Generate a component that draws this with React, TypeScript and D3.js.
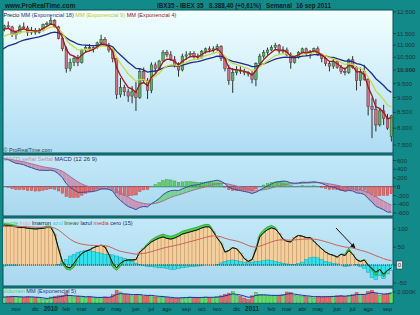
import React from 'react';
import * as d3 from 'd3';

// ---- Weekly data (IBEX 35, weekly bars dated by Monday) ----
const weekStarts: Date[] = d3.timeMonday.range(new Date(2009, 9, 5), new Date(2011, 8, 13));

const opens = [11600,11750,11850,11800,11450,11550,11800,11750,11550,11650,11550,11650,11900,11950,12100,11800,11300,10850,10050,10300,10450,10300,10800,10900,10850,10900,11100,11250,11000,10800,10450,9100,9350,9200,9050,9200,9000,9950,9600,9250,10200,10050,10350,10700,10600,10400,10200,10000,10550,10600,10650,10550,10500,10750,10850,10800,10850,10950,10450,10050,9600,9900,10000,9950,9900,9850,9650,10250,10550,10700,10800,10900,11000,10750,10800,10600,10300,10500,10700,10850,10650,10750,10850,10600,10450,10250,10150,10350,10100,9950,9900,10400,10100,9600,9950,9650,8700,8600,8100,8550,8300,7750];
const highs = [11800,11900,12050,11850,11600,11900,12000,11850,11800,11750,11750,11950,12050,12250,12150,11850,11350,10950,10450,10550,10600,10850,11000,11050,10950,11150,11450,11350,11100,10850,10500,9700,9450,9300,9400,9550,10050,10100,9700,10300,10300,10400,10800,10800,10750,10550,10300,10650,10750,10750,10750,10650,10800,10900,10950,10950,11050,11000,10500,10200,10080,10150,10150,10050,9950,10000,10300,10650,10800,10900,11000,11100,11050,10950,10900,10700,10550,10750,10900,10900,10800,10900,10950,10650,10550,10350,10500,10400,10200,10100,10450,10550,10150,10100,10200,9700,9000,8950,8650,8750,8450,8420];
const lows = [11500,11600,11750,11350,11250,11500,11700,11400,11450,11450,11500,11600,11850,11900,11750,11250,10750,9900,9950,10150,10150,10250,10700,10750,10700,10850,11050,10950,10700,10300,8950,9000,9050,8850,8800,8550,8950,9500,8950,9150,9900,10000,10350,10500,10350,10100,9750,9950,10400,10500,10450,10400,10450,10650,10700,10700,10750,10350,9950,9450,9160,9800,9850,9800,9750,9500,9400,10200,10450,10600,10750,10800,10650,10650,10550,10050,10250,10450,10650,10550,10450,10700,10550,10300,10150,9950,10050,10050,9850,9800,9850,10050,9250,9400,9600,8400,7700,7900,8050,8100,7950,7600];
const closes = [11750,11850,11800,11450,11550,11800,11750,11550,11650,11550,11650,11900,11950,12100,11800,11300,10850,10050,10300,10450,10300,10800,10900,10850,10900,11100,11250,11000,10800,10450,9100,9350,9200,9050,9200,9000,9950,9600,9250,10200,10050,10350,10700,10600,10400,10200,10000,10550,10600,10650,10550,10500,10750,10850,10800,10850,10950,10450,10050,9600,9900,10000,9950,9900,9850,9650,10250,10550,10700,10800,10900,11000,10750,10800,10600,10300,10500,10700,10850,10650,10750,10850,10600,10450,10250,10150,10350,10100,9950,9900,10400,10100,9600,9950,9650,8700,8600,8100,8550,8300,8000,8388.4];
const volumes = [1100,1050,1150,1250,1200,1050,1000,1150,1100,1000,950,700,650,1100,1200,1300,1400,1700,1400,1100,1200,1100,1000,1150,950,900,1000,1100,1000,1500,2300,2000,1600,1500,1300,1600,1500,1200,1300,1400,1100,1050,1100,950,900,800,850,1000,1050,1100,1000,950,1050,1100,1000,1050,1150,1300,1600,1800,2050,1400,1200,900,600,1300,1900,1600,1500,1400,1300,1350,1400,1500,2000,1900,1400,1300,1200,1150,1100,900,1200,1100,1150,1200,1250,1300,1350,1200,1400,1500,1900,1600,1500,2100,2300,1700,1400,1500,1700,1900];

// custom oscillator (panel 3)
const oscMarron = [112,111,110,108,106,104,104,102,101,100,101,102,104,104,85,45,10,-5,-8,5,20,32,38,42,48,52,55,50,30,5,-8,5,12,14,14,15,36,45,55,64,70,75,78,74,72,75,80,86,89,92,95,98,103,106,106,92,75,61,36,40,48,45,33,18,10,15,42,78,90,98,103,100,88,72,66,64,76,82,80,76,76,66,55,45,36,30,27,22,30,26,40,30,15,10,14,0,-10,-20,-12,-25,-15,-8];
const oscLineav = [116,115,114,112,109,107,106,104,103,102,103,105,108,108,88,45,3,-12,-14,-6,20,32,38,42,48,52,55,50,28,-6,-15,-3,12,14,14,15,36,47,60,70,77,82,86,82,80,83,88,94,97,100,103,106,110,113,112,96,75,61,36,40,48,45,33,18,10,15,48,86,98,106,110,105,88,72,66,64,76,82,80,76,76,66,55,45,36,30,27,22,30,30,47,30,15,10,14,0,-14,-30,-12,-33,-15,-8];
const oscAzul = [-3,-3,-2,-2,-2,0,0,0,0,0,0,0,0,0,0,2,5,15,25,30,35,38,40,40,38,35,33,30,30,28,25,22,18,15,10,5,2,-2,-4,-5,-6,-8,-8,-10,-12,-12,-10,-8,-6,-5,-4,-3,-2,0,0,0,2,6,10,12,14,12,10,8,6,8,10,10,12,14,12,10,8,5,3,2,2,4,8,15,20,22,20,15,10,8,5,3,0,-5,-3,0,2,-5,-10,-20,-35,-40,-30,-38,-25,-15];

// indicator seeds (value before the first bar)
const emaSeeds = { e18: 10650, e9: 11150, e4: 11500, m12: 11250, m26: 10600, sig: 630, media: 106, vol5: 1100 };

const priceTicks = [12500, 11500, 11000, 10500, 10000, 9500, 9000, 8500, 8000, 7500];
const macdTicks = [600, 400, 200, 0, -200, -400, -600];
const oscTicks = [100, 50, 0, -50];
const monthNames = ['ene', 'feb', 'mar', 'abr', 'may', 'jun', 'jul', 'ago', 'sep', 'oct', 'nov', 'dic'];

function ema(values: number[], period: number, seed: number) {
  const a = 2 / (period + 1);
  let prev = seed;
  return values.map(v => (prev = prev + a * (v - prev)));
}

const FONT = 'Liberation Sans, Arial, sans-serif';
const X0 = 3, X1 = 393;
const P1 = { top: 10, bottom: 153 };
const P2 = { top: 155, bottom: 216 };
const P3 = { top: 218, bottom: 286 };
const P4 = { top: 288, bottom: 303 };

const fmtThousands = (v: number) => d3.format(',')(v).replace(/,/g, '.');

export default function App() {
  const n = closes.length;
  const xb = d3.scaleBand<number>().domain(d3.range(n)).range([-1.435, 393.3]);
  const step = xb.step();
  const cx = (i: number) => (xb(i) as number) + step / 2;

  const yP = d3.scaleLog().domain([7500, 12500]).range([145.0, 11.9]);
  const yM = d3.scaleLinear().domain([-600, 600]).range([213, 160.5]);
  const yO = d3.scaleLinear().domain([-50, 100]).range([283, 229]);
  const yV = d3.scaleLinear().domain([0, 2000]).range([303, 292]);

  const e18 = ema(closes, 18, emaSeeds.e18);
  const e9 = ema(closes, 9, emaSeeds.e9);
  const e4 = ema(closes, 4, emaSeeds.e4);
  const m12 = ema(closes, 12, emaSeeds.m12);
  const m26 = ema(closes, 26, emaSeeds.m26);
  const macd = m12.map((v, i) => v - m26[i]);
  const signal = ema(macd, 9, emaSeeds.sig);
  const hist = macd.map((v, i) => v - signal[i]);
  const media = ema(oscMarron, 20, emaSeeds.media);
  const vol5 = ema(volumes, 5, emaSeeds.vol5);

  const idx = d3.range(n);
  const lineOf = (arr: number[], y: (v: number) => number) =>
    d3.line<number>().x(i => cx(i)).y(i => y(arr[i]))(idx) as string;

  // MACD fill segments
  const segs: { pts: [number, number][]; up: boolean }[] = [];
  for (let i = 0; i < n - 1; i++) {
    const x0 = cx(i), x1 = cx(i + 1);
    const d0 = macd[i] - signal[i], d1 = macd[i + 1] - signal[i + 1];
    if (d0 * d1 >= 0) {
      segs.push({ pts: [[x0, yM(macd[i])], [x1, yM(macd[i + 1])], [x1, yM(signal[i + 1])], [x0, yM(signal[i])]], up: d0 + d1 >= 0 });
    } else {
      const t = d0 / (d0 - d1);
      const xc = x0 + t * (x1 - x0);
      const vc = macd[i] + t * (macd[i + 1] - macd[i]);
      segs.push({ pts: [[x0, yM(macd[i])], [xc, yM(vc)], [x0, yM(signal[i])]], up: d0 > 0 });
      segs.push({ pts: [[xc, yM(vc)], [x1, yM(macd[i + 1])], [x1, yM(signal[i + 1])]], up: d1 > 0 });
    }
  }

  const greenArea = d3.area<number>().x(i => cx(i)).y0(i => yO(oscMarron[i])).y1(i => yO(oscLineav[i]))(idx) as string;

  // month labels at first bar of each month
  const monthLabels: { i: number; text: string; bold: boolean }[] = [];
  idx.forEach(i => {
    if (i === 0) return;
    const m = weekStarts[i].getMonth();
    if (m !== weekStarts[i - 1].getMonth()) {
      monthLabels.push(m === 0
        ? { i, text: String(weekStarts[i].getFullYear()), bold: true }
        : { i, text: monthNames[m], bold: false });
    }
  });

  const bw = 2.5;
  const panelRect = (p: { top: number; bottom: number }, fill: string) => (
    <rect x={X0} y={p.top} width={X1 - X0} height={p.bottom - p.top} fill={fill} stroke="#0b4f4f" strokeWidth={1} />
  );

  const dark = '#062222';
  const axisFill = '#1b3333';

  return (
    <svg width={420} height={315} style={{ position: 'absolute', left: 0, top: 0, display: 'block' }} fontFamily={FONT}>
      <defs>
        <linearGradient id="g1" x1="0" y1="0" x2="0" y2="1">
          <stop offset="0" stopColor="#f2ffff" />
          <stop offset="1" stopColor="#aedcf3" />
        </linearGradient>
        <linearGradient id="g2" x1="0" y1="0" x2="0" y2="1">
          <stop offset="0" stopColor="#c3e9f8" />
          <stop offset="1" stopColor="#a9d7ef" />
        </linearGradient>
        <clipPath id="c1"><rect x={X0} y={P1.top} width={X1 - X0} height={P1.bottom - P1.top} /></clipPath>
        <clipPath id="c2"><rect x={X0} y={P2.top} width={X1 - X0} height={P2.bottom - P2.top} /></clipPath>
        <clipPath id="c3"><rect x={X0} y={P3.top} width={X1 - X0} height={P3.bottom - P3.top} /></clipPath>
        <clipPath id="c4"><rect x={X0} y={P4.top} width={X1 - X0} height={P4.bottom - P4.top} /></clipPath>
        <marker id="arr" viewBox="0 0 10 10" refX="9" refY="5" markerWidth="5" markerHeight="5" orient="auto">
          <path d="M0,0 L10,5 L0,10 z" fill="#111" />
        </marker>
      </defs>
      <rect x={0} y={0} width={420} height={315} fill="#138a8a" />

      {/* header */}
      <g fontWeight="bold" fill={dark}>
        <text x={5} y={8} fontSize={6.4}>www.ProRealTime.com</text>
        <text x={157} y={8} fontSize={6.3}>IBX35 - IBEX 35</text>
        <text x={209} y={8} fontSize={6.3}>8.388,40 (+0,61%)</text>
        <text x={266} y={8} fontSize={6.3}>Semanal</text>
        <text x={296} y={8} fontSize={6.3}>16 sep 2011</text>
      </g>

      {/* panel 1: price */}
      {panelRect(P1, 'url(#g1)')}
      <g clipPath="url(#c1)">
        {idx.map(i => {
          const up = closes[i] >= opens[i];
          const yt = yP(Math.max(opens[i], closes[i]));
          const yb = yP(Math.min(opens[i], closes[i]));
          return (
            <g key={i}>
              <line x1={cx(i)} x2={cx(i)} y1={yP(highs[i])} y2={yP(lows[i])} stroke="#1a1a1a" strokeWidth={0.9} />
              <rect x={cx(i) - bw / 2} y={yt} width={bw} height={Math.max(0.8, yb - yt)}
                fill={up ? '#62ac6c' : '#cc7280'} stroke={up ? '#1f4a25' : '#5a2630'} strokeWidth={0.5} />
            </g>
          );
        })}
        <path d={lineOf(e18, yP)} fill="none" stroke="#1d2a8f" strokeWidth={1.3} />
        <path d={lineOf(e9, yP)} fill="none" stroke="#c9d944" strokeWidth={1.3} />
        <path d={lineOf(e4, yP)} fill="none" stroke="#a3161a" strokeWidth={1.3} />
      </g>
      <text x={3.5} y={16.5} fontSize={5.6}>
        <tspan fill="#111">Precio </tspan>
        <tspan fill="#2a2f88">MM (Exponencial 18) </tspan>
        <tspan fill="#c2c23a">MM (Exponencial 9) </tspan>
        <tspan fill="#8a2020">MM (Exponencial 4)</tspan>
      </text>
      <text x={3.5} y={152} fontSize={5.4} fill="#2d4545">© ProRealTime.com</text>

      {/* panel 2: MACD */}
      {panelRect(P2, 'url(#g2)')}
      <g clipPath="url(#c2)">
        {segs.map((s, k) => (
          <polygon key={k} points={s.pts.map(p => p.join(',')).join(' ')} fill={s.up ? '#72d68e' : '#c797b8'} stroke="none" />
        ))}
        <line x1={X0} x2={X1} y1={yM(0)} y2={yM(0)} stroke="#2f4a8a" strokeWidth={0.8} />
        {idx.map(i => {
          const v = hist[i];
          const y0 = yM(0), y1 = yM(v);
          return <rect key={i} x={cx(i) - 1.3} y={Math.min(y0, y1)} width={2.6} height={Math.abs(y1 - y0)}
            fill={v >= 0 ? '#5fd35f' : '#ea6a6a'} stroke={v >= 0 ? '#2f8f3f' : '#b03a3a'} strokeWidth={0.4} />;
        })}
        <path d={lineOf(signal, yM)} fill="none" stroke="#a86f95" strokeWidth={1} />
        <path d={lineOf(macd, yM)} fill="none" stroke="#3a4aa0" strokeWidth={1} />
      </g>
      <text x={3} y={161} fontSize={5.9}>
        <tspan fill="#a495a8">MACD </tspan>
        <tspan fill="#cc88a6">señal Señal </tspan>
        <tspan fill="#24306e">MACD (12 26 9)</tspan>
      </text>

      {/* panel 3: oscillator */}
      {panelRect(P3, 'url(#g2)')}
      <g clipPath="url(#c3)">
        {idx.map(i => {
          const v = oscMarron[i];
          if (v <= 0) return null;
          return <rect key={i} x={cx(i) - step / 2} y={yO(v)} width={step} height={yO(0) - yO(v)}
            fill="#f4cf9e" stroke="#c08b55" strokeWidth={0.45} />;
        })}
        {idx.map(i => {
          const v = oscAzul[i];
          const y0 = yO(0), y1 = yO(v);
          return <rect key={'a' + i} x={cx(i) - step / 2} y={Math.min(y0, y1)} width={step} height={Math.abs(y1 - y0)}
            fill="#34e2ee" stroke="#1a9aa8" strokeWidth={0.45} />;
        })}
        <path d={greenArea} fill="#49d548" stroke="#1d7a24" strokeWidth={0.6} />
        <path d={lineOf(oscMarron, yO)} fill="none" stroke="#111" strokeWidth={1} />
        <path d={lineOf(media, yO)} fill="none" stroke="#c8625e" strokeWidth={1} />
        <line x1={X0} x2={X1} y1={yO(0)} y2={yO(0)} stroke="#1c2f6a" strokeWidth={0.9} strokeDasharray="1,1" />
        <line x1={336} y1={228} x2={355} y2={248} stroke="#111" strokeWidth={1} markerEnd="url(#arr)" />
      </g>
      <text x={3} y={224.5} fontSize={5.6}>
        <tspan fill="#3fcf5a">lverde </tspan>
        <tspan fill="#e4a49a">lrojo </tspan>
        <tspan fill="#151515">lmarron </tspan>
        <tspan fill="#22d4e6">azul </tspan>
        <tspan fill="#2a6a2a">lineav </tspan>
        <tspan fill="#1a2a6a">lazul </tspan>
        <tspan fill="#d03040">media </tspan>
        <tspan fill="#1a2a6a">cero (15)</tspan>
      </text>

      {/* panel 4: volume */}
      {panelRect(P4, 'url(#g2)')}
      <g clipPath="url(#c4)">
        {idx.map(i => {
          const up = closes[i] >= opens[i];
          return <rect key={i} x={cx(i) - 1.5} y={yV(volumes[i])} width={3} height={yV(0) - yV(volumes[i])}
            fill={up ? '#66dd66' : '#e86868'} stroke={up ? '#2f9a3f' : '#a83838'} strokeWidth={0.4} />;
        })}
        <path d={lineOf(vol5, yV)} fill="none" stroke="#2030a0" strokeWidth={1} />
      </g>
      <text x={3} y={293} fontSize={5.6}>
        <tspan fill="#3fcf5a">Volumen </tspan>
        <tspan fill="#24306e">MM (Exponencial 5)</tspan>
      </text>

      {/* right axes */}
      {priceTicks.map(v => (
        <g key={'p' + v}>
          <line x1={X1} x2={X1 + 3} y1={yP(v)} y2={yP(v)} stroke="#1b3b3b" strokeWidth={0.8} />
          <text x={X1 + 4} y={yP(v) + 2.1} fontSize={6} fill={axisFill} fontWeight={v === 10000 ? 'bold' : 'normal'}>{fmtThousands(v)}</text>
        </g>
      ))}
      {macdTicks.map(v => (
        <g key={'m' + v}>
          <line x1={X1} x2={X1 + 3} y1={yM(v)} y2={yM(v)} stroke="#1b3b3b" strokeWidth={0.8} />
          <text x={X1 + 4} y={yM(v) + 2.1} fontSize={6} fill={axisFill} fontWeight={v === 0 ? 'bold' : 'normal'}>{v}</text>
        </g>
      ))}
      {oscTicks.map(v => (
        <g key={'o' + v}>
          <line x1={X1} x2={X1 + 3} y1={yO(v)} y2={yO(v)} stroke="#1b3b3b" strokeWidth={0.8} />
          {v === 0 && <rect x={X1 + 3.5} y={yO(v) - 4} width={6} height={8} fill="#dfe8e8" stroke="#2a3a3a" strokeWidth={0.6} />}
          <text x={X1 + 4.8} y={yO(v) + 2.1} fontSize={6} fill={axisFill}>{v}</text>
        </g>
      ))}
      <line x1={X1} x2={X1 + 3} y1={yV(2000)} y2={yV(2000)} stroke="#1b3b3b" strokeWidth={0.8} />
      <text x={X1 + 4} y={yV(2000) + 2.1} fontSize={6} fill={axisFill}>2.000K</text>

      {/* x axis */}
      {monthLabels.map(m => (
        <text key={m.i} x={cx(m.i)} y={311} fontSize={m.bold ? 6.4 : 5.7} textAnchor="middle" fill="#0f2a2a" fontWeight={m.bold ? 'bold' : 'normal'}>{m.text}</text>
      ))}
    </svg>
  );
}
